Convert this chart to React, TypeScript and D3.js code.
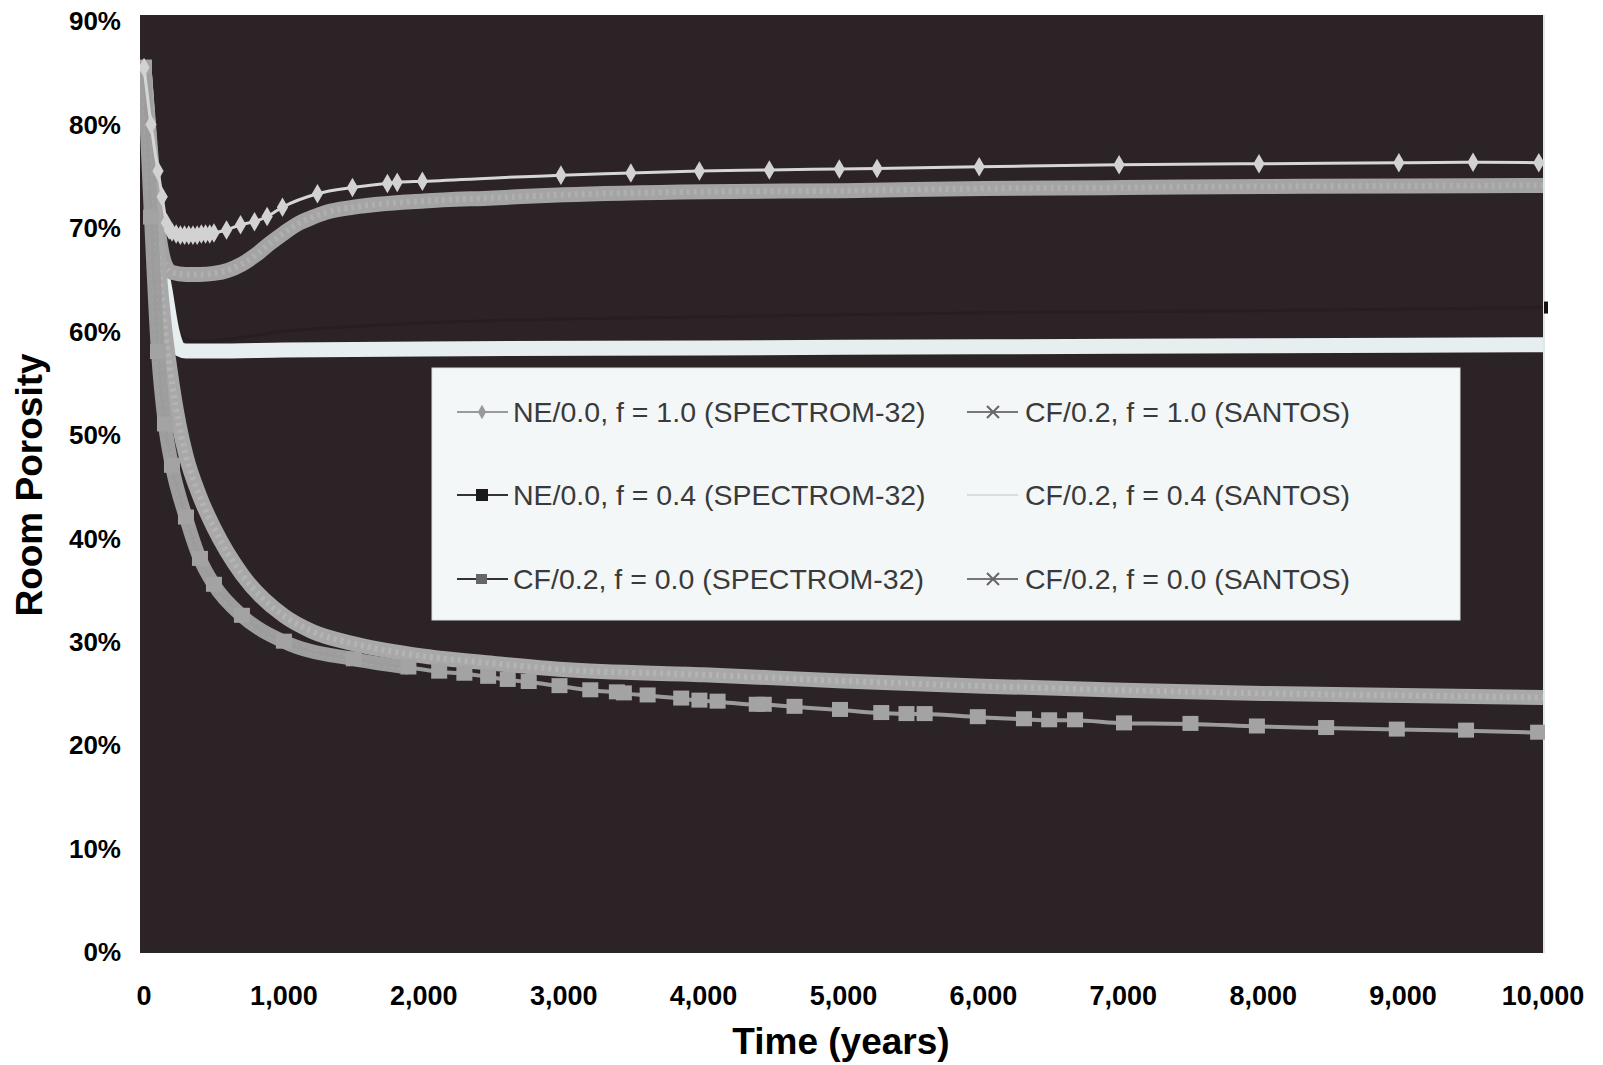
import React from "react";
import * as d3 from "d3";

// ---- data (years, porosity fraction) ----
const neF10Years = [0, 50, 100, 130, 160, 180, 200, 230, 260, 290, 320, 350, 380, 410, 440, 470, 500, 590, 690, 790, 880, 990, 1240, 1490, 1740, 1810, 1990, 2980, 3480, 3970, 4470, 4970, 5240, 5970, 6970, 7970, 8970, 9500, 9970];
const neF10Values = [0.855, 0.80, 0.755, 0.73, 0.705, 0.698, 0.696, 0.694, 0.693, 0.693, 0.693, 0.693, 0.693, 0.694, 0.694, 0.694, 0.695, 0.698, 0.703, 0.706, 0.711, 0.720, 0.733, 0.739, 0.743, 0.744, 0.745, 0.751, 0.753, 0.755, 0.756, 0.757, 0.7575, 0.759, 0.761, 0.762, 0.763, 0.7635, 0.763];

const neF04Years = [0, 100, 200, 400, 1000, 2000, 4000, 6000, 8000, 10000];
const neF04Values = [0.855, 0.70, 0.60, 0.59, 0.60, 0.608, 0.614, 0.618, 0.62, 0.623];

const cfF00SpYears = [0, 50, 100, 150, 200, 300, 400, 500, 700, 1000, 1500, 1890, 2110, 2290, 2460, 2600, 2750, 2970, 3190, 3380, 3430, 3600, 3840, 3970, 4100, 4380, 4430, 4650, 4975, 5270, 5450, 5580, 5960, 6290, 6470, 6655, 7005, 7480, 7955, 8450, 8955, 9450, 9965];
const cfF00SpValues = [0.855, 0.71, 0.58, 0.51, 0.47, 0.42, 0.38, 0.355, 0.325, 0.30, 0.283, 0.275, 0.271, 0.269, 0.266, 0.263, 0.261, 0.257, 0.253, 0.251, 0.250, 0.248, 0.245, 0.243, 0.242, 0.239, 0.239, 0.237, 0.234, 0.231, 0.230, 0.230, 0.227, 0.225, 0.224, 0.224, 0.221, 0.2205, 0.218, 0.2165, 0.215, 0.214, 0.212];

const cfF10SaYears = [0, 50, 100, 150, 200, 300, 400, 500, 600, 700, 800, 900, 1000, 1100, 1200, 1300, 1500, 2000, 2500, 3000, 4000, 5000, 6000, 7000, 8000, 9000, 10000];
const cfF10SaValues = [0.855, 0.77, 0.70, 0.665, 0.657, 0.655, 0.655, 0.656, 0.659, 0.665, 0.674, 0.685, 0.695, 0.704, 0.710, 0.715, 0.720, 0.726, 0.729, 0.732, 0.735, 0.736, 0.738, 0.739, 0.740, 0.7405, 0.741];

const cfF04SaYears = [0, 50, 100, 150, 200, 250, 300, 500, 1000, 2000, 4000, 6000, 8000, 10000];
const cfF04SaValues = [0.855, 0.76, 0.68, 0.64, 0.60, 0.583, 0.581, 0.581, 0.582, 0.583, 0.584, 0.585, 0.586, 0.587];

const cfF00SaYears = [0, 50, 100, 150, 200, 250, 300, 400, 500, 700, 1000, 1200, 1500, 2000, 2500, 3000, 4000, 5000, 6000, 7000, 8000, 9000, 10000];
const cfF00SaValues = [0.855, 0.76, 0.67, 0.60, 0.55, 0.51, 0.48, 0.44, 0.41, 0.365, 0.325, 0.31, 0.298, 0.286, 0.279, 0.273, 0.268, 0.262, 0.257, 0.253, 0.250, 0.248, 0.246];

const yTicks = [0, 0.1, 0.2, 0.3, 0.4, 0.5, 0.6, 0.7, 0.8, 0.9];
const xTicks = [0, 1000, 2000, 3000, 4000, 5000, 6000, 7000, 8000, 9000, 10000];

const legendLeft = ["NE/0.0, f = 1.0 (SPECTROM-32)", "NE/0.0, f = 0.4 (SPECTROM-32)", "CF/0.2, f = 0.0 (SPECTROM-32)"];
const legendRight = ["CF/0.2, f = 1.0 (SANTOS)", "CF/0.2, f = 0.4 (SANTOS)", "CF/0.2, f = 0.0 (SANTOS)"];

const zip = (xs: number[], ys: number[]) => xs.map((x, i) => [x, ys[i]] as [number, number]);

export default function App() {
  const W = 1603, H = 1065;
  const x = d3.scaleLinear().domain([0, 10000]).range([144, 1543]);
  const y = d3.scaleLinear().domain([0, 0.9]).range([952, 21]);
  const line = d3.line<[number, number]>().x(d => x(d[0])).y(d => y(d[1])).curve(d3.curveMonotoneX);

  const fmtX = d3.format(",");
  const fmtY = d3.format(".0%");

  const neF10 = zip(neF10Years, neF10Values);
  const neF04 = zip(neF04Years, neF04Values);
  const cfF00Sp = zip(cfF00SpYears, cfF00SpValues);
  const cfF00SpEarly = cfF00Sp.filter(d => d[0] <= 1900);
  const cfF10Sa = zip(cfF10SaYears, cfF10SaValues);
  const cfF04Sa = zip(cfF04SaYears, cfF04SaValues);
  const cfF00Sa = zip(cfF00SaYears, cfF00SaValues);

  const diamond = d3.symbol().type(d3.symbolDiamond).size(110)() as string;

  const legTop = 368, legLeft = 432, legRight = 1460, legBottom = 620;
  const rowsY = [412, 495, 579];
  const textColor = "#3a3a3a";
  const bg = "#2c2326";

  return (
    <svg width={W} height={H} style={{ position: "absolute", left: 0, top: 0, background: "#fff" }}
      fontFamily="'Liberation Sans', Arial, Helvetica, sans-serif">
      <defs>
        <clipPath id="plotClip">
          <rect x={140} y={15} width={1405} height={938} />
        </clipPath>
      </defs>
      <rect x={140} y={15} width={1405} height={938} fill={bg} />
      <line x1={1544} y1={15} x2={1544} y2={953} stroke="#dfe9ec" strokeWidth={2} />

      <g clipPath="url(#plotClip)">
        {/* NE f=0.4 black (nearly invisible on dark ground) */}
        <path d={line(neF04) as string} fill="none" stroke="#261e21" strokeWidth={3} />

        {/* SANTOS thick lines */}
        <path d={line(cfF04Sa) as string} fill="none" stroke="#e7eef0" strokeWidth={15} />
        <path d={line(cfF10Sa) as string} fill="none" stroke="#a4a4a4" strokeWidth={15} />
        <path d={line(cfF10Sa) as string} fill="none" stroke="#b8b8b8" strokeWidth={6} strokeDasharray="3 4" opacity={0.6} />
        <path d={line(cfF00Sa) as string} fill="none" stroke="#a8a8a8" strokeWidth={15} />
        <path d={line(cfF00Sa) as string} fill="none" stroke="#bdbdbd" strokeWidth={6} strokeDasharray="3 4" opacity={0.6} />

        {/* CF f=0.0 SPECTROM squares */}
        <path d={line(cfF00SpEarly) as string} fill="none" stroke="#9e9e9e" strokeWidth={14} />
        <path d={line(cfF00SpEarly) as string} fill="none" stroke="#b4b4b4" strokeWidth={5} strokeDasharray="3 4" opacity={0.6} />
        <path d={line(cfF00Sp) as string} fill="none" stroke="#9c9c9c" strokeWidth={4} />
        {cfF00Sp.map((d, i) => (
          <rect key={"s" + i} x={x(d[0]) - 8} y={y(d[1]) - 8} width={16} height={15} fill="#a3a3a3" />
        ))}

        {/* NE f=1.0 diamonds */}
        <path d={line(neF10) as string} fill="none" stroke="#d6d6d6" strokeWidth={3} />
        {neF10.map((d, i) => (
          <path key={"d" + i} d={diamond} transform={`translate(${x(d[0])},${y(d[1])})`} fill="#d2d2d2" />
        ))}
      </g>
      {/* last point of NE f=0.4 sticking out at right edge */}
      <rect x={x(10000) + 1} y={y(neF04Values[neF04Values.length - 1]) - 6} width={4} height={12} fill="#141012" />

      {/* legend */}
      <rect x={legLeft} y={legTop} width={legRight - legLeft} height={legBottom - legTop} fill="#f3f7f8" stroke="#d8dfe2" strokeWidth={1} />
      {legendLeft.map((t, i) => (
        <g key={"ll" + i}>
          <line x1={457} x2={508} y1={rowsY[i]} y2={rowsY[i]} stroke={i === 0 ? "#9a9a9a" : "#333"} strokeWidth={2} />
          {i === 0 && <path d={d3.symbol().type(d3.symbolDiamond).size(60)() as string} transform={`translate(482,${rowsY[i]})`} fill="#9a9a9a" />}
          {i === 1 && <rect x={476} y={rowsY[i] - 6} width={12} height={12} fill="#1a1a1a" />}
          {i === 2 && <rect x={476} y={rowsY[i] - 5} width={11} height={10} fill="#666" />}
          <text x={513} y={rowsY[i]} dy="0.36em" fontSize={28.5} fill={textColor}>{t}</text>
        </g>
      ))}
      {legendRight.map((t, i) => (
        <g key={"lr" + i}>
          <line x1={967} x2={1018} y1={rowsY[i]} y2={rowsY[i]} stroke={i === 1 ? "#d8dde0" : "#777"} strokeWidth={2} />
          {i !== 1 && (
            <g stroke="#666" strokeWidth={2}>
              <line x1={987} x2={999} y1={rowsY[i] - 6} y2={rowsY[i] + 6} />
              <line x1={987} x2={999} y1={rowsY[i] + 6} y2={rowsY[i] - 6} />
            </g>
          )}
          <text x={1025} y={rowsY[i]} dy="0.36em" fontSize={28.5} fill={textColor}>{t}</text>
        </g>
      ))}

      {/* y axis labels */}
      {yTicks.map((t, i) => (
        <text key={"y" + i} x={121} y={y(t)} dy="0.36em" textAnchor="end" fontSize={26} fontWeight="bold" fill="#000">{fmtY(t)}</text>
      ))}
      {/* x axis labels */}
      {xTicks.map((t, i) => (
        <text key={"x" + i} x={x(t)} y={995} dy="0.36em" textAnchor="middle" fontSize={27} fontWeight="bold" fill="#000">{fmtX(t)}</text>
      ))}

      <text x={841} y={1041} dy="0.36em" textAnchor="middle" fontSize={37} fontWeight="bold" fill="#000">Time (years)</text>
      <text transform="translate(29,485) rotate(-90)" dy="0.36em" textAnchor="middle" fontSize={37} fontWeight="bold" fill="#000">Room Porosity</text>
    </svg>
  );
}
